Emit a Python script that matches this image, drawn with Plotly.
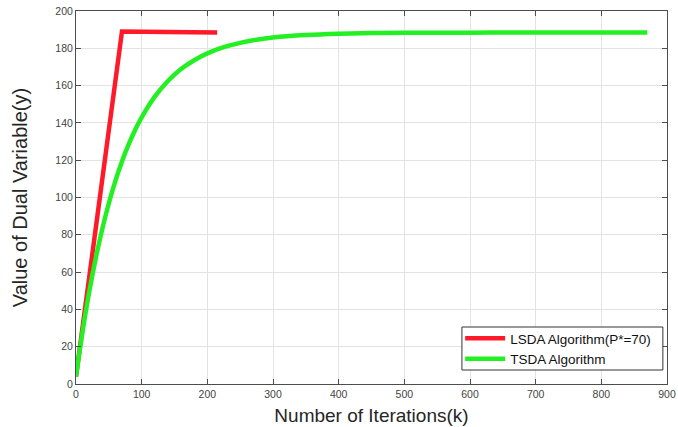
import plotly.graph_objects as go

# Data
lsda_k = [0, 70, 140, 215]
lsda_y = [4, 189, 188.7, 188.5]

tsda_k = [0, 10, 20, 30, 40, 50, 60, 70, 80, 90, 100, 120, 140, 160, 180, 200,
          225, 250, 275, 300, 350, 400, 450, 500, 600, 700, 870]
tsda_y = [4, 28.1, 49.1, 67.3, 83.1, 96.9, 108.9, 119.3, 128.3, 136.2, 143.0,
          154.1, 162.5, 168.9, 173.6, 177.3, 180.6, 182.9, 184.6, 185.8, 187.1,
          187.8, 188.2, 188.3, 188.4, 188.5, 188.5]

x_ticks = [0, 100, 200, 300, 400, 500, 600, 700, 800, 900]
y_ticks = [0, 20, 40, 60, 80, 100, 120, 140, 160, 180, 200]

FONT = "Liberation Sans, Arial, Helvetica, sans-serif"

fig = go.Figure()
fig.add_trace(go.Scatter(x=lsda_k, y=lsda_y, mode="lines",
                         name="LSDA Algorithm(P*=70)",
                         line=dict(color="#ff1a2a", width=4.5)))
fig.add_trace(go.Scatter(x=tsda_k, y=tsda_y, mode="lines",
                         name="TSDA Algorithm", line_shape="spline",
                         line=dict(color="#22f022", width=4.5)))

axis_common = dict(showgrid=True, gridcolor="#e3e3e3", gridwidth=1,
                   showline=True, linecolor="#4d4d4d", linewidth=1, mirror="ticks",
                   ticks="inside", ticklen=5, tickcolor="#4d4d4d",
                   tickfont=dict(family=FONT, size=10.5, color="#444444"),
                   zeroline=False, automargin=False)

# legend frame (MATLAB-style tight box) drawn as a shape behind the legend entries
fig.add_shape(type="rect", xref="paper", yref="paper",
              x0=0.653, x1=0.993, y0=0.0375, y1=0.1528,
              fillcolor="white", line=dict(color="#333333", width=1), layer="above")

fig.update_layout(
    width=678, height=427,
    margin=dict(l=76, r=11, t=11, b=43),
    paper_bgcolor="white", plot_bgcolor="white",
    font=dict(family=FONT),
    xaxis=dict(range=[0, 900], tickvals=x_ticks,
               title=dict(text="Number of Iterations(k)", standoff=10,
                          font=dict(family=FONT, size=19, color="#262626")),
               **axis_common),
    yaxis=dict(range=[0, 200], tickvals=y_ticks,
               title=dict(text="Value of Dual Variable(y)", standoff=22,
                          font=dict(family=FONT, size=20, color="#262626")),
               **axis_common),
    legend=dict(x=0.650, y=0.1635, xanchor="left", yanchor="top",
                bgcolor="rgba(0,0,0,0)", borderwidth=0,
                font=dict(family=FONT, size=13.5, color="#111111"),
                tracegroupgap=0, itemwidth=40),
    showlegend=True,
)

# remove the default 8px page margin so the figure fills the window
fig.write_html("out.html", config={"displayModeBar": False},
               post_script="document.body.style.margin='0';")
